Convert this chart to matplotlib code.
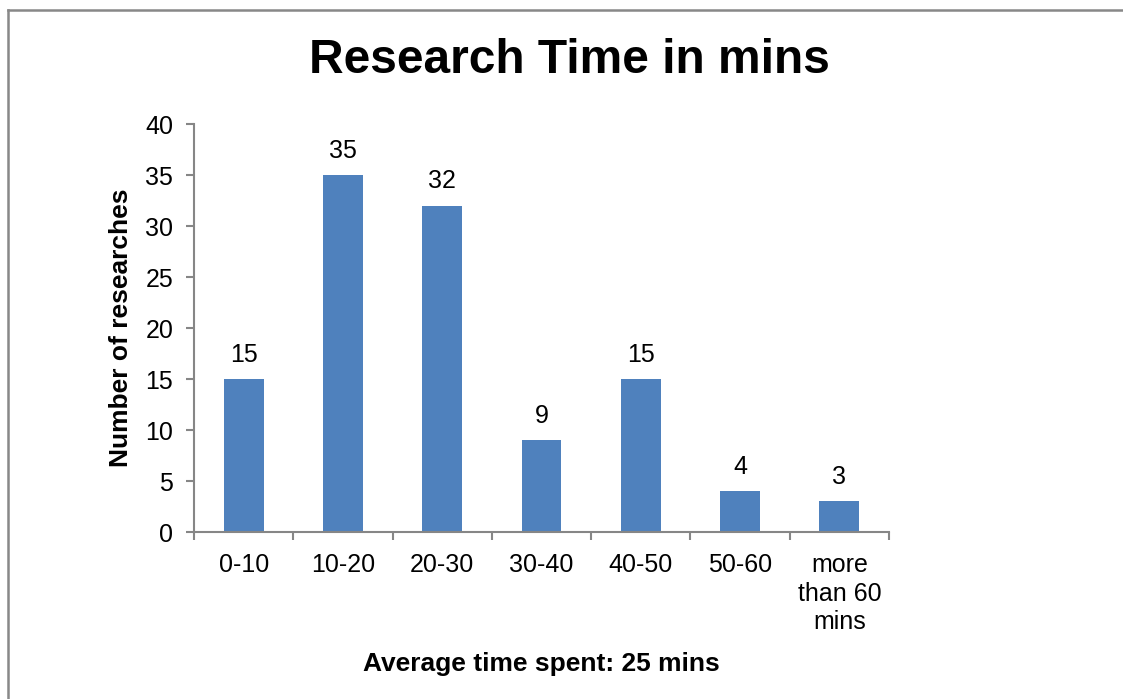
import matplotlib.pyplot as plt
from matplotlib.lines import Line2D

categories = ['0-10', '10-20', '20-30', '30-40', '40-50', '50-60', 'more\nthan 60\nmins']
counts = [15, 35, 32, 9, 15, 4, 3]

plt.rcParams['font.family'] = ['Liberation Sans', 'DejaVu Sans']

fig = plt.figure(figsize=(11.23, 6.99), dpi=100)
ax = fig.add_axes([0.1728, 0.2389, 0.7916 - 0.1728, 0.8226 - 0.2389])

x = list(range(len(categories)))
bars = ax.bar(x, counts, width=0.4, color='#4F81BD')

for xi, c in zip(x, counts):
    ax.annotate(str(c), (xi, c), xytext=(0, 9), textcoords='offset points',
                ha='center', va='bottom', fontsize=18)

ax.set_xlim(-0.5, len(categories) - 0.5)
ax.set_ylim(0, 40)
ax.set_yticks(range(0, 41, 5))

# category labels sit between the boundary ticks
ax.set_xticks([i - 0.5 for i in range(len(categories) + 1)])
ax.set_xticklabels([])
ax.set_xticks(x, minor=True)
ax.set_xticklabels(categories, minor=True, fontsize=18, linespacing=1.25, va='top')
ax.tick_params(axis='x', which='minor', length=0, pad=15)
ax.tick_params(axis='x', which='major', length=6, width=1.5, color='#868686', direction='out')
ax.tick_params(axis='y', length=6, width=1.5, color='#868686', labelsize=18, pad=9)

for s in ['top', 'right']:
    ax.spines[s].set_visible(False)
for s in ['left', 'bottom']:
    ax.spines[s].set_color('#868686')
    ax.spines[s].set_linewidth(1.5)

ax.set_ylabel('Number of researches', fontsize=19, fontweight='bold', labelpad=9)
ax.set_xlabel('Average time spent: 25 mins', fontsize=19, fontweight='bold', labelpad=13)

fig.text(0.507, 0.913, 'Research Time in mins', ha='center', va='center',
         fontsize=34.5, fontweight='bold')

# outer frame (top and left edges)
fig.add_artist(Line2D([0.0071, 1.0], [0.986, 0.986], color='#888888', lw=1.8))
fig.add_artist(Line2D([0.0071, 0.0071], [0.0, 0.986], color='#888888', lw=1.8))

fig.savefig('out.png', dpi=100)
